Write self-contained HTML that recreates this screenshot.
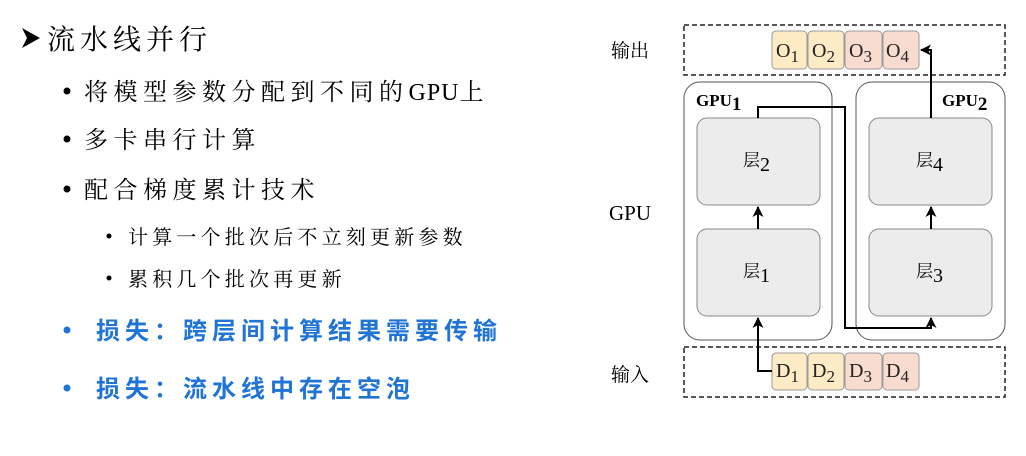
<!DOCTYPE html>
<html><head><meta charset="utf-8"><style>
html,body{margin:0;padding:0;background:#fff;}
svg{display:block;}
.cn{font-family:"Liberation Serif","Noto Serif CJK SC","Noto Sans CJK SC",serif;}
.bl{font-family:"Liberation Sans","Noto Sans CJK SC",sans-serif;font-weight:bold;fill:#1f74d6;}
.tm{font-family:"Liberation Serif",serif;}
</style></head><body>
<svg width="1026" height="456" viewBox="0 0 1026 456" xmlns="http://www.w3.org/2000/svg">
<defs><marker id="ah" markerWidth="11" markerHeight="11" refX="10" refY="5.5" orient="auto" markerUnits="userSpaceOnUse"><path d="M0,0 L11,5.5 L0,11 L3,5.5 Z" fill="#000"/></marker></defs>
<path d="M22,28 L40,38 L22,48 L27,38 Z" fill="#000"/>
<text x="47" y="49" class="cn" font-size="28" letter-spacing="5">流水线并行</text>
<g class="cn" font-size="24" letter-spacing="5.5">
<circle cx="67" cy="91" r="3.5" fill="#000"/><text x="84" y="100">将模型参数分配到不同的<tspan letter-spacing="1">GPU</tspan>上</text>
<circle cx="67" cy="139" r="3.5" fill="#000"/><text x="84" y="148">多卡串行计算</text>
<circle cx="67" cy="189" r="3.5" fill="#000"/><text x="84" y="198">配合梯度累计技术</text>
</g>
<g class="cn" font-size="20" letter-spacing="4.2">
<circle cx="109" cy="236" r="2.5" fill="#000"/><text x="128" y="244">计算一个批次后不立刻更新参数</text>
<circle cx="109" cy="278" r="2.5" fill="#000"/><text x="128" y="286">累积几个批次再更新</text>
</g>
<g class="bl" font-size="24" letter-spacing="5">
<circle cx="67" cy="330" r="3.5" fill="#1f74d6"/><text x="96" y="339">损失：跨层间计算结果需要传输</text>
<circle cx="67" cy="388" r="3.5" fill="#1f74d6"/><text x="96" y="397">损失：流水线中存在空泡</text>
</g>
<g class="cn" font-size="19">
<text x="611" y="57">输出</text>
<text x="611" y="381">输入</text>
</g>
<text x="609" y="220" class="tm" font-size="21">GPU</text>
<rect x="684" y="25" width="321" height="50" fill="none" stroke="#222" stroke-width="1.5" stroke-dasharray="5,3"/>
<rect x="684" y="347" width="321" height="50" fill="none" stroke="#222" stroke-width="1.5" stroke-dasharray="5,3"/>
<rect x="684" y="82" width="148" height="258" rx="16" fill="none" stroke="#555" stroke-width="1"/>
<rect x="856" y="82" width="149" height="258" rx="16" fill="none" stroke="#555" stroke-width="1"/>
<text x="696" y="106" class="tm" font-size="17" font-weight="bold">GPU<tspan font-size="19" dy="4">1</tspan></text>
<text x="942" y="106" class="tm" font-size="17" font-weight="bold">GPU<tspan font-size="19" dy="4">2</tspan></text>
<g fill="#ececec" stroke="#888" stroke-width="1">
<rect x="697" y="118" width="123" height="87" rx="10"/>
<rect x="697" y="229" width="123" height="87" rx="10"/>
<rect x="869" y="118" width="123" height="87" rx="10"/>
<rect x="869" y="229" width="123" height="87" rx="10"/>
</g>
<g class="cn" font-size="17">
<text x="743" y="166">层<tspan class="tm" font-size="20" dy="5">2</tspan></text>
<text x="743" y="277">层<tspan class="tm" font-size="20" dy="5">1</tspan></text>
<text x="916" y="166">层<tspan class="tm" font-size="20" dy="5">4</tspan></text>
<text x="916" y="277">层<tspan class="tm" font-size="20" dy="5">3</tspan></text>
</g>
<g stroke="#999" stroke-width="1">
<rect x="772" y="31" width="35" height="38" rx="4" fill="#fdebc6"/>
<rect x="808" y="31" width="36" height="38" rx="4" fill="#fdebc6"/>
<rect x="845" y="31" width="37" height="38" rx="4" fill="#f8dccf"/>
<rect x="883" y="31" width="36" height="38" rx="4" fill="#f8dccf"/>
<rect x="772" y="353" width="35" height="37" rx="4" fill="#fdebc6"/>
<rect x="808" y="353" width="36" height="37" rx="4" fill="#fdebc6"/>
<rect x="845" y="353" width="37" height="37" rx="4" fill="#f8dccf"/>
<rect x="883" y="353" width="36" height="37" rx="4" fill="#f8dccf"/>
</g>
<g class="tm" font-size="20" fill="#222">
<text x="776" y="57">O<tspan font-size="17" dy="5">1</tspan></text>
<text x="812" y="57">O<tspan font-size="17" dy="5">2</tspan></text>
<text x="849" y="57">O<tspan font-size="17" dy="5">3</tspan></text>
<text x="886" y="57">O<tspan font-size="17" dy="5">4</tspan></text>
<text x="776" y="377">D<tspan font-size="17" dy="5">1</tspan></text>
<text x="812" y="377">D<tspan font-size="17" dy="5">2</tspan></text>
<text x="849" y="377">D<tspan font-size="17" dy="5">3</tspan></text>
<text x="886" y="377">D<tspan font-size="17" dy="5">4</tspan></text>
</g>
<g fill="none" stroke="#000" stroke-width="2">
<polyline points="772,371 758,371 758,318" marker-end="url(#ah)"/>
<line x1="758" y1="229" x2="758" y2="207" marker-end="url(#ah)"/>
<line x1="931" y1="229" x2="931" y2="207" marker-end="url(#ah)"/>
<polyline points="758,118 758,107 845,107 845,328 931,328 931,318" marker-end="url(#ah)"/>
<polyline points="931,118 931,50 921,50" marker-end="url(#ah)"/>
</g>
</svg>
</body></html>
